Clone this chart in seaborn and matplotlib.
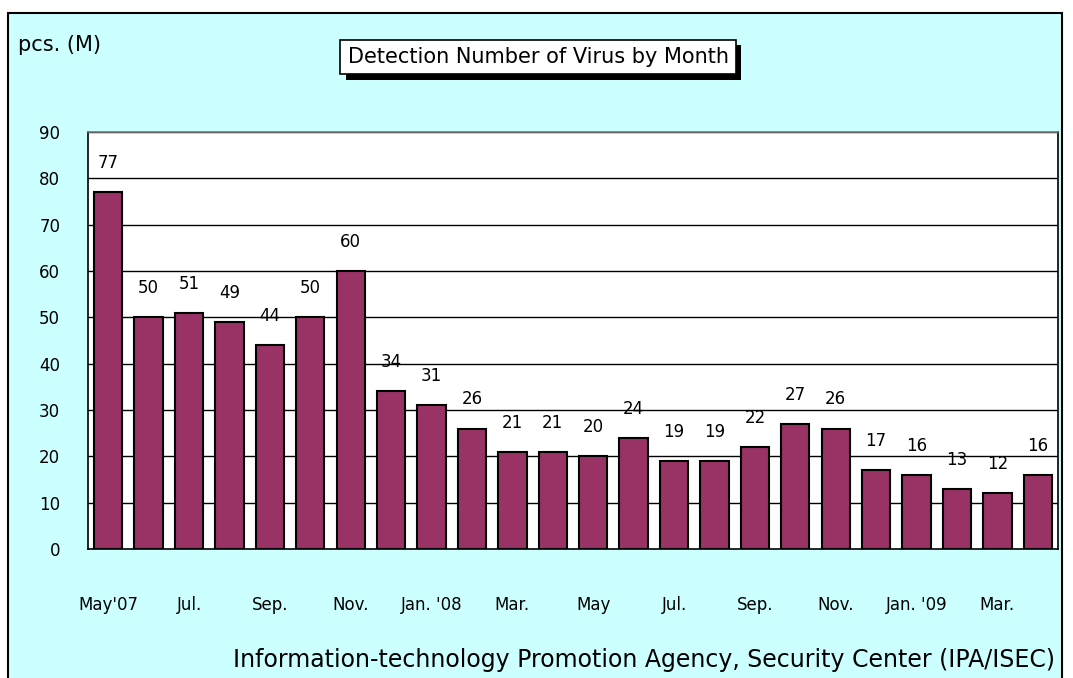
import numpy as np
import pandas as pd
import matplotlib
matplotlib.use("Agg")
import matplotlib.pyplot as plt
import matplotlib.patheffects as pe
from matplotlib.patches import Rectangle
import seaborn as sns

# data (millions of detections)
months = ["May07", "Jun07", "Jul07", "Aug07", "Sep07", "Oct07", "Nov07", "Dec07",
          "Jan08", "Feb08", "Mar08", "Apr08", "May08", "Jun08", "Jul08", "Aug08",
          "Sep08", "Oct08", "Nov08", "Dec08", "Jan09", "Feb09", "Mar09", "Apr09"]
detections = [77, 50, 51, 49, 44, 50, 60, 34, 31, 26, 21, 21,
              20, 24, 19, 19, 22, 27, 26, 17, 16, 13, 12, 16]
tick_labels = ["May'07", "", "Jul.", "", "Sep.", "", "Nov.", "", "Jan. '08", "", "Mar.", "",
               "May", "", "Jul.", "", "Sep.", "", "Nov.", "", "Jan. '09", "", "Mar.", ""]
y_ticks = list(range(0, 100, 10))

df = pd.DataFrame({"month": months, "count": detections})

sns.set_style("white")
plt.rcParams["font.family"] = ["DejaVu Sans"]
plt.rcParams["text.color"] = "black"
plt.rcParams["xtick.color"] = "black"
plt.rcParams["ytick.color"] = "black"

bar_color = "#993366"
panel_color = "#CCFFFF"

fig = plt.figure(figsize=(10.73, 6.78), dpi=100)
fig.patch.set_facecolor("white")

# cyan chart-area panel with black frame (behind everything)
panel = Rectangle((8 / 1073, -0.05), (1062 - 8) / 1073, 1.05 - 13 / 678,
                  transform=fig.transFigure, facecolor=panel_color,
                  edgecolor="black", linewidth=1.5, zorder=-10)
fig.patches.append(panel)

ax = fig.add_axes([88 / 1073, 1 - 549 / 678, (1058 - 88) / 1073, (549 - 132) / 678])
ax.set_zorder(1)
ax.set_facecolor("white")

sns.barplot(data=df, x="month", y="count", color=bar_color, saturation=1,
            edgecolor="black", linewidth=1.5, width=0.7, ax=ax, zorder=3)

ax.set_ylim(0, 90)
ax.set_yticks(y_ticks)
ax.set_xlim(-0.5, len(months) - 0.5)
for y in y_ticks[1:]:
    ax.axhline(y, color="black", linewidth=1, zorder=1)

ax.set_xticks(range(len(months)))
ax.set_xticklabels(tick_labels, fontsize=12)
ax.tick_params(axis="x", length=0, pad=34)
ax.tick_params(axis="y", labelsize=12, length=4, direction="in", pad=20)
# little separators between categories on the baseline
ax.set_xticks(np.arange(-0.5, len(months), 1), minor=True)
ax.tick_params(axis="x", which="minor", length=4, direction="in", color="black")

for s in ax.spines.values():
    s.set_color("black")
    s.set_linewidth(1.2)
ax.spines["top"].set_color("#777777")
ax.set_xlabel("")
ax.set_ylabel("")

# value labels above the bars
for i, v in enumerate(detections):
    ax.annotate(str(v), (i, v), xytext=(0, 21), textcoords="offset points",
                ha="center", va="center", fontsize=12, zorder=4)

# title box with drop shadow
title = fig.text(538 / 1073, 1 - 57 / 678, "Detection Number of Virus by Month",
                 ha="center", va="center", fontsize=15,
                 bbox=dict(boxstyle="square,pad=0.35", facecolor="white",
                           edgecolor="black", linewidth=1.2))
title.get_bbox_patch().set_path_effects([
    pe.SimplePatchShadow(offset=(4, -4), shadow_rgbFace="black", alpha=1),
    pe.Normal()])

fig.text(18 / 1073, 1 - 45 / 678, "pcs. (M)", ha="left", va="center", fontsize=15)
fig.text(1055 / 1073, 1 - 660 / 678,
         "Information-technology Promotion Agency, Security Center (IPA/ISEC)",
         ha="right", va="center", fontsize=17)

fig.savefig("out.png", dpi=100, facecolor=fig.get_facecolor())
